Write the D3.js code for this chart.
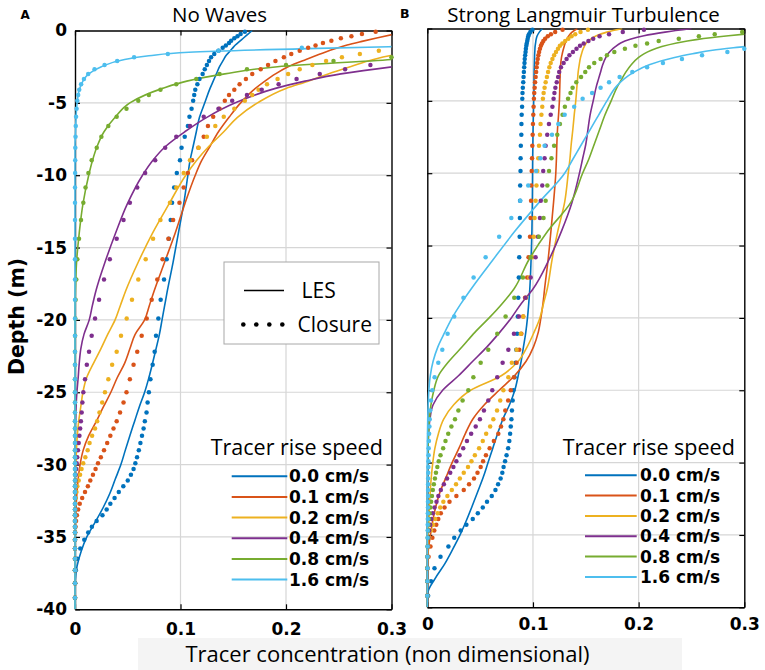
<!DOCTYPE html>
<html><head><meta charset="utf-8">
<script src="https://cdn.jsdelivr.net/npm/d3@7"></script>
<style>
html,body{margin:0;padding:0;background:#fff;}
svg{display:block;}
</style></head><body>
<svg id="chart" width="765" height="670"></svg>
<script>
// ---------------- DATA ----------------
const speedLabels = ["0.0 cm/s","0.1 cm/s","0.2 cm/s","0.4 cm/s","0.8 cm/s","1.6 cm/s"];
const seriesColors = ["#0072BD","#D95319","#EDB120","#7E2F8E","#77AC30","#4DBEEE"];
const xTickValues = [0, 0.1, 0.2, 0.3];
const yTickValues = [0, -5, -10, -15, -20, -25, -30, -35, -40];

// depth levels of the closure model output (m)
const closureDepth = [-0.08,-0.24,-0.39,-0.54,-0.7,-0.86,-1.03,-1.2,-1.4,-1.62,
 -1.85,-2.1,-2.38,-2.68,-3.0,-3.35,-3.72,-4.1,-4.45,-4.85,
 -5.4,-5.96,-6.6,-7.35,-8.1,-8.96,-9.85,-10.85,-11.9,-13.1,
 -14.4,-15.8,-17.2,-18.6,-19.9,-21.1,-22.2,-23.1,-24.1,-25.0,
 -25.7,-26.4,-27.0,-27.5,-28.0,-28.5,-29.0,-29.5,-29.9,-30.3,
 -30.7,-31.1,-31.5,-31.9,-32.3,-32.7,-33.1,-33.5,-33.9,-34.3,
 -34.7,-35.2,-35.8,-36.5,-37.3,-38.2,-39.2];

// depth levels used for the LES profiles (m)
const lesDepth = [0,-0.25,-0.5,-0.75,-1,-1.25,-1.5,-1.75,-2,-2.5,
 -3,-3.5,-4,-5,-6,-7,-8,-9,-10,-12,
 -14,-16,-18,-19,-20,-21,-22,-23,-24,-25,
 -26,-27,-28,-29,-30,-31,-32,-33,-34,-35,
 -36,-37,-38,-39,-40];

// ---- Panel A: No Waves, LES ----
const lesA_00 = [0.168,0.164,0.16,0.156,0.152,0.149,0.146,0.143,0.141,0.137, 0.134,0.131,0.128,0.123,0.118,0.115,0.112,0.109,0.107,0.103, 0.098,0.093,0.0875,0.085,0.0825,0.08,0.0768,0.0735,0.07,0.066, 0.061,0.0565,0.052,0.0477,0.0435,0.0382,0.033,0.0265,0.019,0.0112, 0.0058,0.002,0.0003,0,0];
const lesA_01 = [0.32,0.303,0.287,0.272,0.258,0.247,0.237,0.228,0.219,0.202, 0.19,0.18,0.171,0.157,0.146,0.136,0.128,0.12,0.114,0.104, 0.095,0.085,0.075,0.0705,0.066,0.057,0.052,0.047,0.04,0.034, 0.027,0.0203,0.013,0.0078,0.0048,0.003,0.0018,0.001,0.0004,0, 0,0,0,0,0];
const lesA_02 = [0.5,0.46,0.43,0.4,0.37,0.345,0.32,0.298,0.283,0.261, 0.24,0.221,0.2,0.173,0.154,0.141,0.127,0.115,0.105,0.089, 0.0735,0.06,0.048,0.043,0.038,0.031,0.0245,0.0175,0.011,0.0075, 0.0055,0.0035,0.0022,0.0014,0.0008,0.0003,0,0,0,0, 0,0,0,0,0];
const lesA_04 = [0.6,0.58,0.55,0.52,0.49,0.46,0.43,0.4,0.365,0.302, 0.252,0.218,0.19,0.152,0.125,0.104,0.086,0.0735,0.064,0.0495, 0.0385,0.0285,0.0198,0.0165,0.0135,0.0085,0.0055,0.004,0.003,0.0018, 0.001,0.0005,0,0,0,0,0,0,0,0, 0,0,0,0,0];
const lesA_08 = [0.7,0.63,0.57,0.51,0.46,0.42,0.38,0.34,0.3,0.192, 0.142,0.106,0.083,0.052,0.038,0.0275,0.021,0.0165,0.013,0.0075, 0.004,0.0015,0.0004,0.0001,0,0,0,0,0,0, 0,0,0,0,0,0,0,0,0,0, 0,0,0,0,0];
const lesA_16 = [0.9,0.75,0.62,0.49,0.37,0.22,0.108,0.07,0.047,0.025, 0.013,0.0075,0.0045,0.002,0.001,0.0005,0,0,0,0, 0,0,0,0,0,0,0,0,0,0, 0,0,0,0,0,0,0,0,0,0, 0,0,0,0,0];

// ---- Panel A: No Waves, Closure ----
const closA_00 = [0.161,0.157,0.154,0.151,0.148,0.146,0.143,0.140,0.136,0.132, 0.129,0.127,0.125,0.123,0.121,0.118,0.116,0.114,0.113,0.112, 0.1105,0.1085,0.107,0.104,0.101,0.0995,0.0965,0.094,0.092,0.0907, 0.089,0.0869,0.0844,0.0812,0.079,0.0768,0.0755,0.0736,0.0715,0.07, 0.0688,0.0678,0.0662,0.065,0.0635,0.062,0.0605,0.0588,0.0572,0.0555, 0.053,0.05,0.0458,0.0415,0.0375,0.0335,0.03,0.026,0.0205,0.016, 0.0125,0.0088,0.005,0.0022,0.0008,0.0002,0];
const closA_01 = [0.285,0.272,0.262,0.252,0.243,0.235,0.228,0.221,0.213,0.205, 0.198,0.19,0.183,0.176,0.168,0.162,0.156,0.151,0.146,0.142, 0.137,0.131,0.126,0.122,0.117,0.111,0.107,0.103,0.099,0.093, 0.0885,0.083,0.078,0.0727,0.068,0.0632,0.059,0.0555,0.052,0.0488, 0.046,0.0427,0.0395,0.0365,0.0335,0.0305,0.0275,0.0245,0.0218,0.0195, 0.017,0.0145,0.0122,0.0095,0.0068,0.0045,0.003,0.0018,0.001,0.0005, 0.0002,0,0,0,0,0,0];
const closA_02 = [0.42,0.4,0.385,0.37,0.355,0.34,0.322,0.305,0.288,0.27, 0.253,0.238,0.225,0.213,0.202,0.192,0.182,0.174,0.168,0.161, 0.151,0.141,0.133,0.125,0.117,0.109,0.103,0.096,0.09,0.081, 0.074,0.067,0.06,0.054,0.049,0.0436,0.0395,0.0352,0.0316,0.0284, 0.0258,0.0232,0.021,0.019,0.0162,0.0138,0.012,0.0098,0.0078,0.0062, 0.0048,0.0035,0.0022,0.0014,0.0008,0.0004,0.0002,0,0,0, 0,0,0,0,0,0,0];
const closA_04 = [0.6,0.58,0.56,0.54,0.52,0.5,0.48,0.46,0.44,0.41, 0.38,0.34,0.28,0.256,0.232,0.21,0.193,0.177,0.163,0.149, 0.136,0.122,0.109,0.096,0.0855,0.076,0.0665,0.059,0.052,0.046, 0.0395,0.033,0.0275,0.0228,0.019,0.0158,0.0133,0.0112,0.0095,0.0079, 0.007,0.0063,0.0056,0.0049,0.0042,0.0035,0.0028,0.0021,0.0016,0.0011, 0.0007,0.0004,0.0002,0,0,0,0,0,0,0, 0,0,0,0,0,0,0];
const closA_08 = [0.75,0.72,0.69,0.66,0.63,0.6,0.56,0.52,0.47,0.37, 0.3,0.245,0.2,0.163,0.137,0.115,0.096,0.081,0.07,0.06, 0.0488,0.0395,0.0316,0.025,0.0206,0.0158,0.0127,0.01,0.0079,0.0057, 0.0038,0.0022,0.0012,0.0006,0.0003,0.0001,0,0,0,0, 0,0,0,0,0,0,0,0,0,0, 0,0,0,0,0,0,0,0,0,0, 0,0,0,0,0,0,0];
const closA_16 = [1.2,1.0,0.85,0.72,0.6,0.48,0.36,0.215,0.136,0.088, 0.056,0.04,0.028,0.0185,0.0125,0.0085,0.0058,0.004,0.003,0.0022, 0.0015,0.001,0.0007,0.0005,0.0003,0.0002,0.0001,0,0,0, 0,0,0,0,0,0,0,0,0,0, 0,0,0,0,0,0,0,0,0,0, 0,0,0,0,0,0,0,0,0,0, 0,0,0,0,0,0,0];

// ---- Panel B: Strong Langmuir Turbulence, LES ----
const lesB_00 = [0.109,0.106,0.104,0.103,0.1025,0.102,0.1018,0.1016,0.1015,0.1013, 0.1011,0.101,0.101,0.1007,0.1004,0.1001,0.0999,0.0997,0.0996,0.0994, 0.099,0.0982,0.097,0.096,0.0948,0.0932,0.091,0.0888,0.086,0.0828, 0.0778,0.0715,0.0665,0.062,0.0575,0.053,0.0478,0.0425,0.037,0.031, 0.024,0.0165,0.0075,0.0005,0];
const lesB_01 = [0.142,0.137,0.134,0.132,0.1305,0.1295,0.1285,0.1277,0.127,0.1262, 0.1258,0.1256,0.1254,0.125,0.1242,0.1232,0.1226,0.1222,0.1216,0.1195, 0.117,0.1143,0.111,0.1095,0.1075,0.105,0.1005,0.0935,0.0825,0.068, 0.054,0.043,0.036,0.03,0.0235,0.0178,0.0122,0.0082,0.0052,0.003, 0.001,0.0002,0,0,0];
const lesB_02 = [0.1845,0.17,0.16,0.1542,0.1505,0.1485,0.147,0.146,0.145,0.1438, 0.1428,0.1422,0.1416,0.1405,0.139,0.1377,0.1362,0.135,0.1334,0.13, 0.1235,0.118,0.1135,0.11,0.1066,0.101,0.0945,0.086,0.07,0.041, 0.025,0.0155,0.0105,0.0072,0.0052,0.0038,0.0028,0.002,0.0015,0.0009, 0.0004,0.0001,0,0,0];
const lesB_04 = [0.25,0.225,0.205,0.192,0.183,0.178,0.174,0.171,0.169,0.166, 0.164,0.162,0.16,0.157,0.154,0.152,0.15,0.147,0.144,0.137, 0.127,0.115,0.1,0.089,0.0795,0.0685,0.0565,0.043,0.0295,0.0145, 0.0055,0.0025,0.0012,0.0007,0.0004,0.0002,0,0,0,0, 0,0,0,0,0];
const lesB_08 = [0.36,0.32,0.285,0.256,0.236,0.222,0.212,0.205,0.2,0.193, 0.188,0.184,0.18,0.174,0.168,0.163,0.158,0.153,0.147,0.136, 0.114,0.096,0.082,0.071,0.0585,0.045,0.033,0.0205,0.0105,0.0062, 0.0035,0.002,0.0012,0.0007,0.0004,0.0002,0.0001,0,0,0, 0,0,0,0,0];
const lesB_16 = [0.55,0.47,0.41,0.37,0.33,0.3,0.27,0.251,0.234,0.21, 0.196,0.186,0.179,0.17,0.162,0.154,0.146,0.138,0.13,0.106, 0.083,0.062,0.0415,0.032,0.0235,0.0165,0.01,0.0055,0.0028,0.0015, 0.0008,0.0004,0.0002,0,0,0,0,0,0,0, 0,0,0,0,0];

// ---- Panel B: Strong Langmuir Turbulence, Closure ----
const closB_00 = [0.0995,0.0975,0.0962,0.0955,0.095,0.0946,0.0941,0.0937,0.0933,0.093, 0.0926,0.0922,0.092,0.0917,0.0914,0.0911,0.0908,0.0904,0.0901,0.0899, 0.0897,0.0893,0.0891,0.089,0.0885,0.0883,0.0882,0.0879,0.0878,0.0876, 0.0874,0.087,0.0866,0.0861,0.0856,0.085,0.0842,0.0835,0.0826,0.0815, 0.0808,0.0801,0.0796,0.079,0.0784,0.0776,0.0765,0.075,0.0736,0.0722, 0.071,0.0694,0.067,0.0645,0.061,0.0565,0.0525,0.0478,0.043,0.037, 0.0316,0.0255,0.02,0.0125,0.0068,0.0035,0.0008];
const closB_01 = [0.128,0.121,0.117,0.114,0.1115,0.1098,0.1085,0.1075,0.1066,0.1058, 0.1051,0.1045,0.104,0.1035,0.103,0.1025,0.102,0.1016,0.1012,0.1009, 0.1006,0.1003,0.1,0.0997,0.0994,0.0991,0.0988,0.0984,0.0982,0.0978, 0.0972,0.0958,0.0945,0.0925,0.0908,0.089,0.087,0.0845,0.082,0.079, 0.0765,0.0738,0.072,0.0698,0.0672,0.063,0.059,0.0555,0.0528,0.0505, 0.0475,0.0442,0.0395,0.0345,0.0275,0.021,0.0163,0.0128,0.0104,0.0085, 0.0066,0.0048,0.003,0.0012,0.0004,0.0001,0];
const closB_02 = [0.152,0.145,0.14,0.1365,0.1335,0.1305,0.1278,0.1255,0.1237,0.1218, 0.12,0.1184,0.1168,0.1155,0.1143,0.1132,0.112,0.111,0.1101,0.1094, 0.1088,0.108,0.1072,0.1066,0.1057,0.105,0.1041,0.1033,0.1025,0.1015, 0.1008,0.0993,0.0965,0.0935,0.0908,0.0885,0.0845,0.08,0.0767,0.072, 0.069,0.066,0.0625,0.0595,0.0557,0.0525,0.049,0.045,0.0418,0.0385, 0.0345,0.0308,0.0272,0.0232,0.019,0.0152,0.0122,0.0098,0.0075,0.0055, 0.0035,0.0018,0.0008,0.0003,0,0,0];
const closB_04 = [0.205,0.185,0.172,0.163,0.157,0.1525,0.148,0.1445,0.1412,0.1378, 0.1345,0.1318,0.129,0.1265,0.1248,0.1238,0.1225,0.1212,0.1203,0.1195, 0.1184,0.1168,0.1151,0.1135,0.112,0.111,0.1097,0.1088,0.1074,0.1066, 0.1047,0.1025,0.0978,0.093,0.0867,0.082,0.0767,0.0713,0.0662,0.0615, 0.0577,0.0536,0.0498,0.0458,0.0415,0.0375,0.034,0.0305,0.0275,0.0247, 0.0217,0.0187,0.0157,0.0128,0.0105,0.0087,0.0068,0.0052,0.0038,0.0028, 0.0018,0.001,0.0005,0.0002,0,0,0];
const closB_08 = [0.335,0.298,0.272,0.257,0.238,0.219,0.208,0.197,0.187,0.177, 0.17,0.164,0.158,0.153,0.1495,0.1455,0.141,0.1375,0.1355,0.1332, 0.1302,0.128,0.1255,0.123,0.12,0.1175,0.1152,0.1136,0.112,0.11, 0.1056,0.0978,0.0905,0.0823,0.0741,0.0662,0.0577,0.0505,0.0436,0.0388, 0.0334,0.0294,0.0262,0.0228,0.0198,0.0172,0.015,0.0125,0.0108,0.0095, 0.0082,0.0072,0.0062,0.0052,0.0044,0.0036,0.0029,0.0022,0.0016,0.0011, 0.0007,0.0004,0.0002,0.0001,0,0,0];
const closB_16 = [0.52,0.47,0.43,0.4,0.375,0.355,0.337,0.318,0.3,0.284, 0.26,0.241,0.223,0.208,0.194,0.182,0.172,0.164,0.156,0.147, 0.139,0.13,0.124,0.118,0.111,0.107,0.103,0.0955,0.088,0.0795, 0.068,0.0552,0.0438,0.0342,0.0255,0.0192,0.0142,0.0104,0.0069,0.0047, 0.0035,0.0028,0.0023,0.002,0.0017,0.0015,0.0013,0.0012,0.0011,0.001, 0.0009,0.0008,0.0008,0.0007,0.0007,0.0006,0.0006,0.0005,0.0005,0.0004, 0.0004,0.0003,0.0003,0.0002,0.0002,0.0001,0];

// ---------------- LAYOUT ----------------
const FONT_TXT = "'Open Sans','Noto Sans',sans-serif";
const FONT_NUM = "'DejaVu Sans',sans-serif";

const panels = [
  { letter:"A", title:"No Waves", x0:75, x1:391.5, y0:30.5, y1:609.3,
    letterX:20.5, letterY:18.5, titleX:219.5, titleY:22, xPad:14, showY:true,
    les:[lesA_00,lesA_01,lesA_02,lesA_04,lesA_08,lesA_16],
    clos:[closA_00,closA_01,closA_02,closA_04,closA_08,closA_16],
    legTitleX:210.7, legTitleY:455, legLineX0:231.7, legLineX1:287.3, legTextX:289, legRow0:476.3, legRowStep:20.65,
    styleLegend:true },
  { letter:"B", title:"Strong Langmuir Turbulence", x0:427.3, x1:744.3, y0:28.5, y1:607.3,
    letterX:400, letterY:17.5, titleX:583.5, titleY:22, xPad:11, showY:false,
    les:[lesB_00,lesB_01,lesB_02,lesB_04,lesB_08,lesB_16],
    clos:[closB_00,closB_01,closB_02,closB_04,closB_08,closB_16],
    legTitleX:562.7, legTitleY:455, legLineX0:585, legLineX1:636.7, legTextX:640, legRow0:475.2, legRowStep:20.35,
    styleLegend:false }
];

const svg = d3.select("#chart");
svg.append("rect").attr("width",765).attr("height",670).attr("fill","#fff");

// light band behind x label
svg.append("rect").attr("x",138).attr("y",638).attr("width",544).attr("height",32).attr("fill","#f4f4f4");

panels.forEach((p, pi) => {
  const x = d3.scaleLinear().domain([0,0.3]).range([p.x0,p.x1]);
  const y = d3.scaleLinear().domain([-40,0]).range([p.y1,p.y0]);
  const g = svg.append("g");

  g.append("rect").attr("x",p.x0).attr("y",p.y0).attr("width",p.x1-p.x0).attr("height",p.y1-p.y0).attr("fill","#fff");

  // grid
  g.append("g").selectAll("line").data(xTickValues.slice(1,-1)).join("line")
    .attr("x1",d=>x(d)).attr("x2",d=>x(d)).attr("y1",p.y0).attr("y2",p.y1)
    .attr("stroke","#d6d6d6").attr("stroke-width",1.2);
  g.append("g").selectAll("line").data(yTickValues.slice(1,-1)).join("line")
    .attr("y1",d=>y(d)).attr("y2",d=>y(d)).attr("x1",p.x0).attr("x2",p.x1)
    .attr("stroke","#d6d6d6").attr("stroke-width",1.2);

  // axes (inward ticks, full box)
  const axB = d3.axisBottom(x).tickValues(xTickValues).tickSize(-5).tickSizeOuter(0).tickPadding(p.xPad).tickFormat(d=>d===0?"0":d3.format(".1f")(d));
  const axT = d3.axisTop(x).tickValues(xTickValues).tickSize(-5).tickSizeOuter(0).tickFormat("");
  const axL = d3.axisLeft(y).tickValues(yTickValues).tickSize(-5).tickSizeOuter(0).tickPadding(8).tickFormat(d=>p.showY?String(d):"");
  const axR = d3.axisRight(y).tickValues(yTickValues).tickSize(-5).tickSizeOuter(0).tickFormat("");
  const styleAxis = sel => {
    sel.selectAll("path.domain").attr("stroke","#000").attr("stroke-width",1.4);
    sel.selectAll(".tick line").attr("stroke","#000").attr("stroke-width",1.2);
    sel.selectAll("text").attr("font-family",FONT_NUM).attr("font-weight","bold").attr("font-size","17px").attr("fill","#000");
  };
  g.append("g").attr("transform",`translate(0,${p.y1})`).call(axB).call(styleAxis);
  g.append("g").attr("transform",`translate(0,${p.y0})`).call(axT).call(styleAxis);
  g.append("g").attr("transform",`translate(${p.x0},0)`).call(axL).call(styleAxis);
  g.append("g").attr("transform",`translate(${p.x1},0)`).call(axR).call(styleAxis);

  const clipId = "clip"+pi;
  svg.append("clipPath").attr("id",clipId).append("rect")
    .attr("x",p.x0-2).attr("y",p.y0).attr("width",p.x1-p.x0+2).attr("height",p.y1-p.y0);

  // LES lines
  const line = d3.line().x(d=>x(d[1])).y(d=>y(d[0])).curve(d3.curveMonotoneY);
  const lg = g.append("g").attr("clip-path",`url(#${clipId})`);
  p.les.forEach((vals,i)=>{
    const pts = lesDepth.map((dd,k)=>[dd, vals[k]]);
    lg.append("path").datum(pts).attr("d",line)
      .attr("fill","none").attr("stroke",seriesColors[i]).attr("stroke-width",1.6);
  });

  // Closure dots
  const dg = g.append("g");
  p.clos.forEach((vals,i)=>{
    const pts = closureDepth.map((dd,k)=>[dd, vals[k]]).filter(d=>d[1] <= 0.3001);
    dg.append("g").selectAll("circle").data(pts).join("circle")
      .attr("cx",d=>x(d[1])).attr("cy",d=>y(d[0])).attr("r",2.25)
      .attr("fill",seriesColors[i]);
  });

  // panel letter and title
  svg.append("text").attr("x",p.letterX).attr("y",p.letterY).text(p.letter)
    .attr("font-family",FONT_NUM).attr("font-weight","bold").attr("font-size", pi===0?"12px":"12.5px");
  svg.append("text").attr("x",p.titleX).attr("y",p.titleY).text(p.title)
    .attr("text-anchor","middle").attr("font-family",FONT_TXT).attr("font-size","20.5px").attr("fill","#000");

  // rise-speed legend
  svg.append("text").attr("x",p.legTitleX).attr("y",p.legTitleY).text("Tracer rise speed")
    .attr("font-family",FONT_TXT).attr("font-size","21.5px").attr("fill","#000");
  speedLabels.forEach((lab,i)=>{
    const yy = p.legRow0 + i*p.legRowStep;
    svg.append("line").attr("x1",p.legLineX0).attr("x2",p.legLineX1).attr("y1",yy).attr("y2",yy)
      .attr("stroke",seriesColors[i]).attr("stroke-width",2);
    svg.append("text").attr("x",p.legTextX).attr("y",yy).attr("dy","0.36em").text(lab)
      .attr("font-family",FONT_NUM).attr("font-weight","bold").attr("font-size","17px").attr("fill","#000");
  });

  // LES / Closure style legend
  if (p.styleLegend) {
    svg.append("rect").attr("x",224).attr("y",262).attr("width",155).attr("height",82)
      .attr("fill","#fff").attr("stroke","#a8a8a8").attr("stroke-width",1);
    svg.append("line").attr("x1",244).attr("x2",284).attr("y1",290.5).attr("y2",290.5)
      .attr("stroke","#000").attr("stroke-width",1.5);
    svg.append("text").attr("x",301.5).attr("y",297.5).text("LES")
      .attr("font-family",FONT_TXT).attr("font-size","21px");
    svg.selectAll(null).data([243.3,256.3,269.3,282.3]).join("circle")
      .attr("cx",d=>d).attr("cy",324.5).attr("r",2.3).attr("fill","#000");
    svg.append("text").attr("x",297.5).attr("y",331.5).text("Closure")
      .attr("font-family",FONT_TXT).attr("font-size","21px");
  }
});

// y-axis label
svg.append("text").attr("transform","translate(23.5,316.5) rotate(-90)").attr("text-anchor","middle")
  .text("Depth (m)").attr("font-family",FONT_NUM).attr("font-weight","bold").attr("font-size","20.5px");
// x-axis label
svg.append("text").attr("x",387.5).attr("y",661.5).attr("text-anchor","middle")
  .text("Tracer concentration (non dimensional)").attr("font-family",FONT_TXT).attr("font-size","22px");
</script>
</body></html>
